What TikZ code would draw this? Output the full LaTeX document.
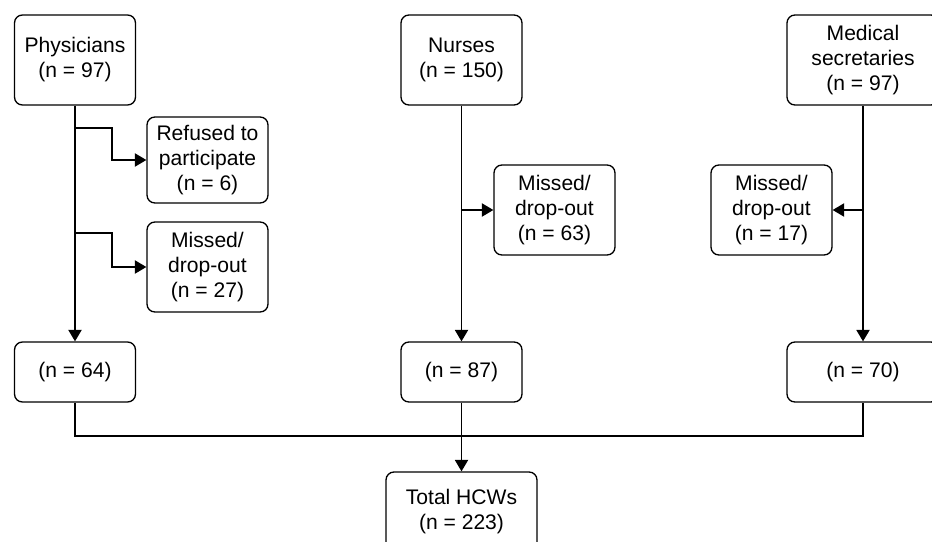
\documentclass[tikz,border=0pt]{standalone}
\usepackage{fontspec}
\setmainfont{Liberation Sans}
\usetikzlibrary{arrows.meta, positioning}

\begin{document}
\begin{tikzpicture}[
        x=0.02cm, y=-0.02cm,
        every node/.style={font=\fontsize{12}{14.2}\selectfont},
        box/.style={rectangle, draw, rounded corners=4.5pt, fill=white, align=center, minimum width=2.42cm, minimum height=1.8cm, inner sep=2pt, line width=0.75pt},
        countbox/.style={box, minimum height=1.2cm},
        arrow/.style={-{Triangle[width=7.5pt,length=6.5pt]}, line width=0.75pt},
        link/.style={line width=0.75pt}
    ]
    \useasboundingbox (0,0) rectangle (932,541);
    \clip (0,0) rectangle (932,541);

    % Groups
    \node[box] (phys) at (75,60) {Physicians\\(n = 97)};
    \node[box] (nurse) at (461.5,60) {Nurses\\(n = 150)};
    \node[box, minimum width=3.04cm] (sec) at (863,60) {Medical\\secretaries\\(n = 97)};

    % Exclusions
    \node[box, minimum height=1.72cm] (refused) at (207.5,160) {Refused to\\participate\\(n = 6)};
    \node[box] (physmiss) at (207.5,267) {Missed/\\drop-out\\(n = 27)};
    \node[box] (nursemiss) at (554.5,210) {Missed/\\drop-out\\(n = 63)};
    \node[box] (secmiss) at (771.5,210) {Missed/\\drop-out\\(n = 17)};

    % Remaining
    \node[countbox] (physleft) at (75,372) {(n = 64)};
    \node[countbox] (nurseleft) at (461.5,372) {(n = 87)};
    \node[countbox, minimum width=3.04cm] (secleft) at (863,372) {(n = 70)};
    \node[box, minimum width=3.02cm, minimum height=1.6cm] (total) at (461.5,512) {Total HCWs\\(n = 223)};

    % Arrows
    \coordinate (physsplitA) at (75,128);
    \coordinate (physsplitB) at (75,233);
    \coordinate (nursesplit) at (461.5,210);
    \coordinate (secsplit) at (863,210);
    \coordinate (merge) at (461.5,436);

    \draw[arrow] (phys) -- (physleft);
    \draw[arrow] (nurse) -- (nurseleft);
    \draw[arrow] (sec) -- (secleft);
    \draw[arrow] (physsplitA) -- ++(37,0) |- (refused.west);
    \draw[arrow] (physsplitB) -- ++(37,0) |- (physmiss.west);
    \draw[arrow] (nursesplit) -- (nursemiss.west);
    \draw[arrow] (secsplit) -- (secmiss.east);
    \draw[link] (physleft.south) |- (merge) -| (secleft.south);
    \draw[arrow] (nurseleft.south) -- (total.north);
\end{tikzpicture}
\end{document}
